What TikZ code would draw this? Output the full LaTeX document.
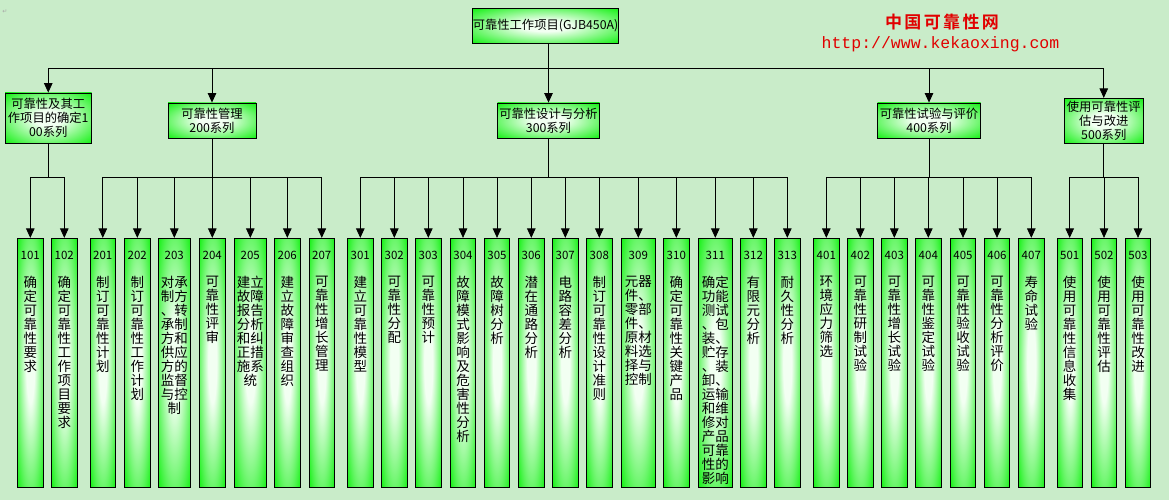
\documentclass[tikz,border=0pt]{standalone}
\usepackage{fontspec}
\setmainfont{Noto Sans CJK SC}
\newfontfamily\markfont[LetterSpace=14]{Noto Sans CJK SC Bold}
\newfontfamily\urlfont{Liberation Mono}
\newfontfamily\symfont{DejaVu Sans}
\usetikzlibrary{arrows.meta,calc}

\definecolor{bgcol}{RGB}{201,236,201}
\definecolor{boxgreen}{RGB}{16,240,16}
\definecolor{boxglow}{RGB}{242,255,242}
\definecolor{markred}{RGB}{225,0,0}

\pgfdeclareradialshading{glow}{\pgfpoint{0bp}{0bp}}{color(0bp)=(boxglow); color(8bp)=(boxglow); color(36bp)=(boxgreen); color(50bp)=(boxgreen)}

% one character (or group) per line
\ExplSyntaxOn
\NewDocumentCommand\colstack{m}{\vbox{\baselineskip=14pt \tl_map_inline:nn{#1}{\hbox to 34pt{\hss ##1\hss}}}}
\ExplSyntaxOff

\tikzset{
  groupbox/.style={draw, line width=0.8pt, shading=glow, inner sep=0pt, align=center, font=\fontsize{12.3}{14}\selectfont},
  leafbox/.style={draw, line width=0.8pt, shading=glow, minimum height=249pt, inner sep=0pt},
  numtxt/.style={inner sep=0pt, font=\fontsize{11.5}{12}\selectfont},
  coltxt/.style={inner sep=0pt, anchor=north, font=\fontsize{13.5}{14}\selectfont},
  conn/.style={line width=0.8pt, -{Triangle[width=8.5pt,length=9.5pt]}}
}

% work item: number, x, width, text
\newcommand\leaf[4]{%
  \node[leafbox, minimum width=#3] (l#1) at (#2,362.8) {};
  \node[numtxt] (n#1) at ([yshift=-17.4pt]l#1.north) {#1};
  \node[coltxt] (t#1) at ([yshift=-38pt]l#1.north) {\colstack{#4}};
}

\begin{document}
\begin{tikzpicture}[x=1pt, y=-1pt]
  \useasboundingbox (0,0) rectangle (1169,500);
  \fill[bgcol] (0,0) rectangle (1169,500);

  \node[text=gray!70, font=\symfont\fontsize{6}{6}\selectfont] (para) at (5,12) {↵};

  \node[text=markred, font=\markfont\fontsize{17}{17}\selectfont] (site) at (942,22.5) {中国可靠性网};
  \node[text=markred, font=\urlfont\fontsize{16.5}{17}\selectfont] (url) at (940.5,44) {http://www.kekaoxing.com};

  \node[groupbox, minimum width=144pt, minimum height=35pt] (top) at (545.5,25.8) {可靠性工作项目(GJB450A)};

  \node[groupbox, minimum width=86.5pt, minimum height=50pt] (b1) at (48.25,118) {可靠性及其工\\作项目的确定1\\00系列};
  \node[groupbox, minimum width=88pt, minimum height=35pt] (b2) at (212,120.5) {可靠性管理\\200系列};
  \node[groupbox, minimum width=102pt, minimum height=35pt] (b3) at (548.5,120.5) {可靠性设计与分析\\300系列};
  \node[groupbox, minimum width=103pt, minimum height=35pt] (b4) at (929,120.5) {可靠性试验与评价\\400系列};
  \node[groupbox, minimum width=79.5pt, minimum height=45pt] (b5) at (1103.75,120.8) {使用可靠性评\\估与改进\\500系列};

  \leaf{101}{30.3}{26pt}{确定可靠性要求}
  \leaf{102}{64.3}{26pt}{确定可靠性工作项目要求}
  \leaf{201}{102.8}{25pt}{制订可靠性计划}
  \leaf{202}{137.3}{26pt}{制订可靠性工作计划}
  \leaf{203}{174.3}{32pt}{{对承}{制方}{、转}{承制}{方和}{供应}{方的}{监督}{与控}{制}}
  \leaf{204}{212.3}{26pt}{可靠性评审}
  \leaf{205}{250.3}{32pt}{{建立}{故障}{报告}{分析}{和纠}{正措}{施系}{统}}
  \leaf{206}{287.3}{26pt}{建立故障审查组织}
  \leaf{207}{321.8}{25pt}{可靠性增长管理}
  \leaf{301}{360.3}{26pt}{建立可靠性模型}
  \leaf{302}{394.3}{26pt}{可靠性分配}
  \leaf{303}{428.3}{26pt}{可靠性预计}
  \leaf{304}{463}{25.4pt}{故障模式影响及危害性分析}
  \leaf{305}{497}{25.4pt}{故障树分析}
  \leaf{306}{531.3}{26pt}{潜在通路分析}
  \leaf{307}{565.3}{26pt}{电路容差分析}
  \leaf{308}{599.3}{26pt}{制订可靠性设计准则}
  \leaf{309}{638.3}{34pt}{{元器}{件、}{零部}{件、}{原材}{料选}{择与}{控制}}
  \leaf{310}{676.3}{26pt}{确定可靠性关键产品}
  \leaf{311}{715.3}{34pt}{{确定}{功能}{测试}{、包}{装、}{贮存}{、装}{卸、}{运输}{和维}{修对}{产品}{可靠}{性的}{影响}}
  \leaf{312}{753.3}{26pt}{有限元分析}
  \leaf{313}{787.3}{26pt}{耐久性分析}
  \leaf{401}{826.3}{26pt}{环境应力筛选}
  \leaf{402}{860.3}{26pt}{可靠性研制试验}
  \leaf{403}{894.3}{26pt}{可靠性增长试验}
  \leaf{404}{928.3}{26pt}{可靠性鉴定试验}
  \leaf{405}{963}{25.4pt}{可靠性验收试验}
  \leaf{406}{997}{25.4pt}{可靠性分析评价}
  \leaf{407}{1031.3}{26pt}{寿命试验}
  \leaf{501}{1069.7}{25.3pt}{使用可靠性信息收集}
  \leaf{502}{1104}{25.4pt}{使用可靠性评估}
  \leaf{503}{1138}{25.4pt}{使用可靠性改进}

  % bus lines
  \coordinate (bus0) at (0,68);
  \coordinate (bus1) at (0,177);

  \draw[conn] (top.south -| b3) -- (b3.north);
  \draw[conn] (top.south -| b3) |- (bus0 -| b1) -- (b1.north);
  \draw[conn] (top.south -| b3) |- (bus0 -| b2) -- (b2.north);
  \draw[conn] (top.south -| b3) |- (bus0 -| b4) -- (b4.north);
  \draw[conn] (top.south -| b3) |- (bus0 -| b5) -- (b5.north);

  \foreach \c in {l101,l102}
    \draw[conn] (b1.south) |- (bus1 -| \c) -- (\c.north);
  \foreach \c in {l201,l202,l203,l204,l205,l206,l207}
    \draw[conn] (b2.south) |- (bus1 -| \c) -- (\c.north);
  \foreach \c in {l301,l302,l303,l304,l305,l306,l307,l308,l309,l310,l311,l312,l313}
    \draw[conn] (b3.south) |- (bus1 -| \c) -- (\c.north);
  \foreach \c in {l401,l402,l403,l404,l405,l406,l407}
    \draw[conn] (b4.south) |- (bus1 -| \c) -- (\c.north);
  \foreach \c in {l501,l502,l503}
    \draw[conn] (b5.south) |- (bus1 -| \c) -- (\c.north);
\end{tikzpicture}
\end{document}
